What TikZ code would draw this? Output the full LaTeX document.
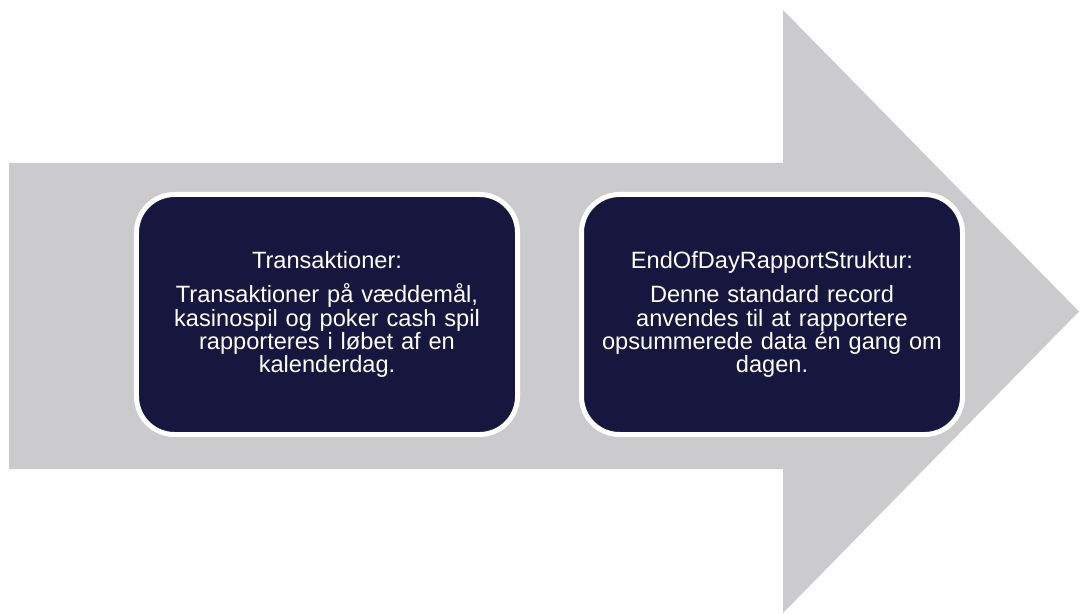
\documentclass[tikz,border=0pt]{standalone}
\usepackage{fontspec}
\setmainfont{Liberation Sans}
\definecolor{arrowgrey}{RGB}{203,203,205}
\definecolor{boxnavy}{RGB}{22,22,62}
\tikzset{
  stagebox/.style={draw=white, line width=5bp, fill=boxnavy, rounded corners=38bp,
    minimum width=381bp, minimum height=240bp, text width=370bp, align=center,
    inner sep=0pt, text=white, font=\fontsize{23.6bp}{23.3bp}\selectfont},
  bigarrow/.style={fill=arrowgrey, draw=none}
}
\begin{document}
\begin{tikzpicture}[x=1bp, y=-1bp]
\useasboundingbox (0,0) rectangle (1080,614);
\fill[bigarrow] (9,163) -- (783,163) -- (783,10) -- (1079,311.5) -- (783,613) -- (783,469) -- (9,469) -- cycle;
\node[stagebox] (trans) at (327,314.5) {Transaktioner:\\[11bp]
Transaktioner på væddemål,\\ kasinospil og poker cash spil\\ rapporteres i løbet af en\\ kalenderdag.};
\node[stagebox] (eod) at (772,314.5) {EndOfDayRapportStruktur:\\[11bp]
Denne standard record\\ anvendes til at rapportere\\ opsummerede data én gang om\\ dagen.};
\end{tikzpicture}
\end{document}
